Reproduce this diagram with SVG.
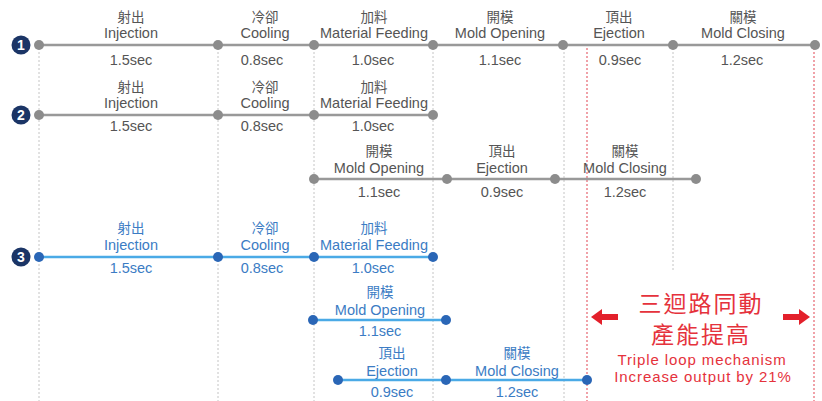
<svg xmlns="http://www.w3.org/2000/svg" width="822" height="401" viewBox="0 0 822 401">
<style>
.cn{font-family:"Noto Sans CJK TC","Noto Sans CJK SC",sans-serif;font-size:13.5px;text-anchor:middle}
.en{font-family:"Liberation Sans",Arial,sans-serif;font-size:14.5px;text-anchor:middle}
.g{fill:#555}
.b{fill:#3b7cc4}
.gl{stroke:#999;stroke-width:2.5}
.bl{stroke:#4aaae6;stroke-width:2.5}
.gd{fill:#8c8c8c}
.bd{fill:#2a66b6}
.vg{stroke:#c4c4c4;stroke-width:1;stroke-dasharray:2 2}
.vr{stroke:#e8707a;stroke-width:1.3;stroke-dasharray:2 2}
.badge{fill:#1b3566}
.bn{font-family:"Liberation Sans",Arial,sans-serif;font-size:14px;font-weight:bold;fill:#fff;text-anchor:middle}
.red{fill:#e5323c;text-anchor:middle}
.rcn{font-family:"Noto Sans CJK TC","Noto Sans CJK SC",sans-serif;font-size:23px;letter-spacing:2px}
.ren{font-family:"Liberation Sans",Arial,sans-serif;font-size:15px;letter-spacing:0.9px}
</style>
<rect width="822" height="401" fill="#fff"/>
<g id="gridlines">
<line class="vg" x1="39" y1="48" x2="39" y2="401"/>
<line class="vg" x1="218" y1="48" x2="218" y2="401"/>
<line class="vg" x1="314" y1="48" x2="314" y2="401"/>
<line class="vg" x1="433" y1="48" x2="433" y2="401"/>
<line class="vg" x1="564" y1="48" x2="564" y2="401"/>
<line class="vg" x1="673" y1="48" x2="673" y2="272"/>
<line class="vr" x1="587" y1="48" x2="587" y2="401"/>
<line class="vr" x1="814" y1="48" x2="814" y2="401"/>
</g>
<g id="connectors">
<line class="gl" x1="39" y1="45" x2="815" y2="45"/>
<line class="gl" x1="39" y1="115" x2="433" y2="115"/>
<line class="gl" x1="314" y1="179" x2="696" y2="179"/>
<line class="bl" x1="39" y1="257" x2="433" y2="257"/>
<line class="bl" x1="313" y1="320" x2="446" y2="320"/>
<line class="bl" x1="338" y1="380" x2="587" y2="380"/>
<g class="gd">
<circle cx="39" cy="45" r="5"/><circle cx="218" cy="45" r="5"/><circle cx="314" cy="45" r="5"/><circle cx="433" cy="45" r="5"/><circle cx="563" cy="45" r="5"/><circle cx="673" cy="45" r="5"/><circle cx="815" cy="45" r="5"/>
<circle cx="39" cy="115" r="5"/><circle cx="218" cy="115" r="5"/><circle cx="314" cy="115" r="5"/><circle cx="433" cy="115" r="5"/>
<circle cx="314" cy="179" r="5"/><circle cx="447" cy="179" r="5"/><circle cx="555" cy="179" r="5"/><circle cx="696" cy="179" r="5"/>
</g>
<g class="bd">
<circle cx="39" cy="257" r="5"/><circle cx="218" cy="257" r="5"/><circle cx="314" cy="257" r="5"/><circle cx="433" cy="257" r="5"/>
<circle cx="313" cy="320" r="5"/><circle cx="446" cy="320" r="5"/>
<circle cx="338" cy="380" r="5"/><circle cx="446" cy="380" r="5"/><circle cx="587" cy="380" r="5"/>
</g>
</g>
<g id="badges">
<circle class="badge" cx="21" cy="45" r="9.5"/><text class="bn" x="21" y="50">1</text>
<circle class="badge" cx="21" cy="115" r="9.5"/><text class="bn" x="21" y="120">2</text>
<circle class="badge" cx="21" cy="257" r="9.5"/><text class="bn" x="21" y="262">3</text>
</g>
<g id="r1-injection"><text class="cn g" x="131" y="22">射出</text><text class="en g" x="131" y="38">Injection</text><text class="en g" x="131" y="65">1.5sec</text></g>
<g id="r1-cooling"><text class="cn g" x="265" y="22">冷卻</text><text class="en g" x="265" y="38">Cooling</text><text class="en g" x="262" y="65">0.8sec</text></g>
<g id="r1-feeding"><text class="cn g" x="374" y="22">加料</text><text class="en g" x="374" y="38">Material Feeding</text><text class="en g" x="373" y="65">1.0sec</text></g>
<g id="r1-opening"><text class="cn g" x="500" y="22">開模</text><text class="en g" x="500" y="38">Mold Opening</text><text class="en g" x="500" y="65">1.1sec</text></g>
<g id="r1-ejection"><text class="cn g" x="619" y="22">頂出</text><text class="en g" x="619" y="38">Ejection</text><text class="en g" x="620" y="65">0.9sec</text></g>
<g id="r1-closing"><text class="cn g" x="743" y="22">關模</text><text class="en g" x="743" y="38">Mold Closing</text><text class="en g" x="742" y="65">1.2sec</text></g>

<g id="r2-injection"><text class="cn g" x="131" y="92">射出</text><text class="en g" x="131" y="108">Injection</text><text class="en g" x="131" y="131">1.5sec</text></g>
<g id="r2-cooling"><text class="cn g" x="265" y="92">冷卻</text><text class="en g" x="265" y="108">Cooling</text><text class="en g" x="262" y="131">0.8sec</text></g>
<g id="r2-feeding"><text class="cn g" x="374" y="92">加料</text><text class="en g" x="374" y="108">Material Feeding</text><text class="en g" x="373" y="131">1.0sec</text></g>

<g id="r2b-opening"><text class="cn g" x="379" y="156">開模</text><text class="en g" x="379" y="173">Mold Opening</text><text class="en g" x="379" y="197">1.1sec</text></g>
<g id="r2b-ejection"><text class="cn g" x="502" y="156">頂出</text><text class="en g" x="502" y="173">Ejection</text><text class="en g" x="502" y="197">0.9sec</text></g>
<g id="r2b-closing"><text class="cn g" x="625" y="156">關模</text><text class="en g" x="625" y="173">Mold Closing</text><text class="en g" x="625" y="197">1.2sec</text></g>

<g id="r3-injection"><text class="cn b" x="131" y="233">射出</text><text class="en b" x="131" y="250">Injection</text><text class="en b" x="131" y="273">1.5sec</text></g>
<g id="r3-cooling"><text class="cn b" x="265" y="233">冷卻</text><text class="en b" x="265" y="250">Cooling</text><text class="en b" x="262" y="273">0.8sec</text></g>
<g id="r3-feeding"><text class="cn b" x="374" y="233">加料</text><text class="en b" x="374" y="250">Material Feeding</text><text class="en b" x="373" y="273">1.0sec</text></g>

<g id="r4-opening"><text class="cn b" x="380" y="297">開模</text><text class="en b" x="380" y="315">Mold Opening</text><text class="en b" x="380" y="336">1.1sec</text></g>
<g id="r5-ejection"><text class="cn b" x="392" y="358">頂出</text><text class="en b" x="392" y="376">Ejection</text><text class="en b" x="392" y="397">0.9sec</text></g>
<g id="r5-closing"><text class="cn b" x="517" y="358">關模</text><text class="en b" x="517" y="376">Mold Closing</text><text class="en b" x="517" y="397">1.2sec</text></g>

<g id="callout">
<path d="M591 317 L602 309 L602 314 L618 314 L618 320 L602 320 L602 325 Z" fill="#e3202b"/>
<path d="M810 317 L799 309 L799 314 L783 314 L783 320 L799 320 L799 325 Z" fill="#e3202b"/>
<text class="red rcn" x="701" y="312">三迴路同動</text>
<text class="red rcn" x="701" y="343">產能提高</text>
<text class="red ren" x="702" y="365">Triple loop mechanism</text>
<text class="red ren" x="703" y="382">Increase output by 21%</text>
</g>
</svg>
